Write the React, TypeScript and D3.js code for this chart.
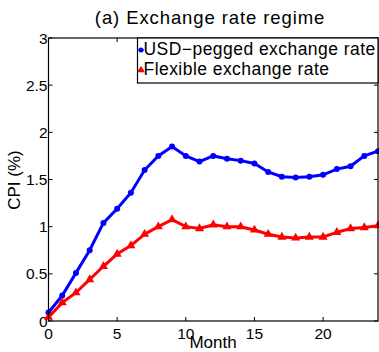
import React from 'react';
import * as d3 from 'd3';

const months = d3.range(0, 25);
const pegged = [0.09, 0.27, 0.51, 0.75, 1.04, 1.19, 1.36, 1.6, 1.75, 1.85, 1.75, 1.69, 1.75, 1.72, 1.7, 1.67, 1.58, 1.53, 1.52, 1.53, 1.55, 1.61, 1.64, 1.75, 1.8];
const flexible = [0.04, 0.195, 0.3, 0.44, 0.58, 0.71, 0.8, 0.92, 1.0, 1.075, 1.0, 0.98, 1.02, 1.0, 1.0, 0.965, 0.92, 0.89, 0.88, 0.89, 0.89, 0.94, 0.98, 0.99, 1.01];
const xTicks = [0, 5, 10, 15, 20];
const yTicks = [0, 0.5, 1, 1.5, 2, 2.5, 3];
const seriesNames = ['USD\u2212pegged exchange rate', 'Flexible exchange rate'];

const App = () => {
  const Width = 379;
  const Height = 352;
  const margin = { top: 38, right: 1, bottom: 31, left: 48.5 };
  const chartWidth = Width - margin.left - margin.right;
  const chartHeight = Height - margin.top - margin.bottom;

  const xScale = d3.scaleLinear().domain([0, 24]).range([0, chartWidth]);
  const yScale = d3.scaleLinear().domain([0, 3]).range([chartHeight, 0]);

  const line = d3.line<number>()
    .x((d, i) => xScale(months[i]))
    .y((d) => yScale(d));

  const tri = d3.symbol().type(d3.symbolTriangle).size(36)();
  const font = 'Liberation Sans, Arial, sans-serif';
  const tickLen = 4;
  const legendX = 137.5 - margin.left;

  return (
    <svg width={Width} height={Height} style={{ position: 'absolute', left: 0, top: 0, fontFamily: font }}>
      <rect width={Width} height={Height} fill="#fff" />
      <text x={210} y={24} textAnchor="middle" style={{ fontSize: '18.5px', letterSpacing: '0.9px' }}>(a) Exchange rate regime</text>
      <g transform={`translate(${margin.left}, ${margin.top})`}>
        {/* ticks on all four sides, pointing inward */}
        {xTicks.map((t) => (
          <g key={'x' + t}>
            <line x1={xScale(t)} x2={xScale(t)} y1={chartHeight} y2={chartHeight - tickLen} stroke="#000" />
            <line x1={xScale(t)} x2={xScale(t)} y1={0} y2={tickLen} stroke="#000" />
            <text x={xScale(t)} y={chartHeight + 17.5} textAnchor="middle" style={{ fontSize: '15.5px' }}>{t}</text>
          </g>
        ))}
        {yTicks.map((t) => (
          <g key={'y' + t}>
            <line x1={0} x2={tickLen} y1={yScale(t)} y2={yScale(t)} stroke="#000" />
            <line x1={chartWidth} x2={chartWidth - tickLen} y1={yScale(t)} y2={yScale(t)} stroke="#000" />
            <text x={-1} y={yScale(t) + 5.5} textAnchor="end" style={{ fontSize: '15.5px' }}>{t}</text>
          </g>
        ))}

        <path d={line(pegged) || ''} fill="none" stroke="#0000ff" strokeWidth={3} />
        {pegged.map((v, i) => (
          <circle key={'p' + i} cx={xScale(months[i])} cy={yScale(v)} r={3} fill="#0000ff" />
        ))}
        <path d={line(flexible) || ''} fill="none" stroke="#ff0000" strokeWidth={3} />
        {flexible.map((v, i) => (
          <path key={'f' + i} d={tri || ''} transform={`translate(${xScale(months[i])}, ${yScale(v)})`} fill="#ff0000" />
        ))}

        <rect x={0} y={0} width={chartWidth} height={chartHeight} fill="none" stroke="#000" strokeWidth={1.2} />

        {/* legend */}
        <g transform={`translate(${legendX}, 0)`}>
          <rect x={0} y={0} width={chartWidth - legendX} height={45} fill="#fff" stroke="#000" strokeWidth={1.2} />
          <circle cx={3.5} cy={12} r={2.5} fill="#0000ff" />
          <line x1={1} x2={6} y1={12} y2={12} stroke="#0000ff" strokeWidth={2} />
          <text x={6} y={17} style={{ fontSize: '17.5px', letterSpacing: '0.45px' }}>{seriesNames[0]}</text>
          <path d={d3.symbol().type(d3.symbolTriangle).size(24)() || ''} transform="translate(3.5, 32)" fill="#ff0000" />
          <line x1={1} x2={6} y1={32.5} y2={32.5} stroke="#ff0000" strokeWidth={2} />
          <text x={6} y={37} style={{ fontSize: '17.5px', letterSpacing: '0.45px' }}>{seriesNames[1]}</text>
        </g>
      </g>
      <text transform={`translate(20, 180) rotate(-90)`} textAnchor="middle" style={{ fontSize: '17px' }}>CPI (%)</text>
      <text x={213} y={348} textAnchor="middle" style={{ fontSize: '17px' }}>Month</text>
    </svg>
  );
};

export default App;
